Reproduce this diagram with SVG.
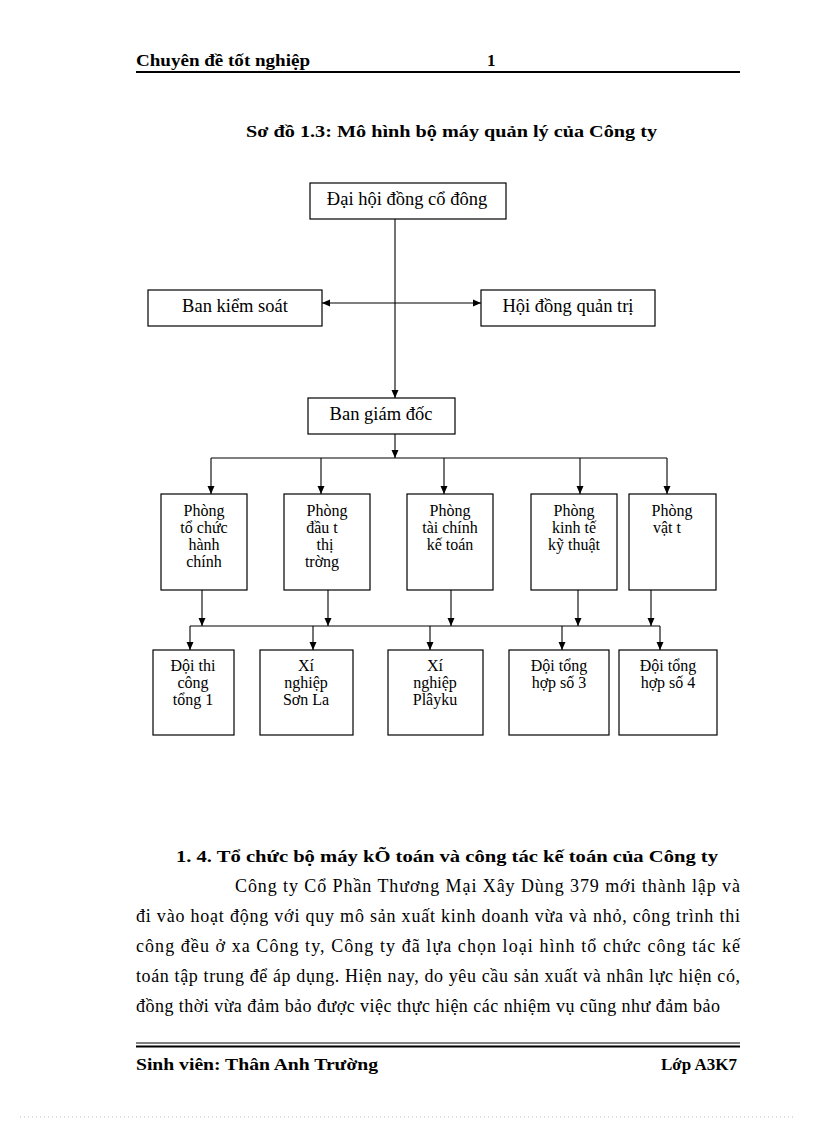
<svg xmlns="http://www.w3.org/2000/svg" width="816" height="1123" viewBox="0 0 816 1123">
<defs>
<marker id="ah" markerUnits="userSpaceOnUse" markerWidth="8" markerHeight="8" viewBox="0 0 8 8" refX="8" refY="4" orient="auto-start-reverse">
<path d="M0,0.5 L8,4 L0,7.5 Z" fill="#000"/>
</marker>
<style>
.t{font-family:"Liberation Serif","Times New Roman",serif;fill:#000}
.b{font-weight:bold}
.n{font-size:18.5px;text-anchor:middle}
.s{font-size:16px;text-anchor:middle}
.p{font-size:17px}
.q{font-size:18px}
.box{fill:#fff;stroke:#000;stroke-width:1.2}
.c{fill:none;stroke:#000;stroke-width:1.1}
.a{marker-end:url(#ah)}
</style>
</defs>
<rect width="816" height="1123" fill="#fff"/>

<!-- header -->
<text class="t b p" x="136" y="66" textLength="174" lengthAdjust="spacingAndGlyphs">Chuyên đề tốt nghiệp</text>
<text class="t b p" x="487" y="66">1</text>
<line x1="136" y1="72" x2="740" y2="72" stroke="#000" stroke-width="2"/>

<text class="t b p" x="246" y="137" textLength="411" lengthAdjust="spacingAndGlyphs">Sơ đồ 1.3: Mô hình bộ máy quản lý của Công ty</text>

<!-- connectors -->
<g id="connectors">
<line class="c a" x1="395" y1="219" x2="395" y2="398"/>
<line class="c a" x1="395" y1="303" x2="322" y2="303"/>
<line class="c a" x1="395" y1="303" x2="481" y2="303"/>
<line class="c a" x1="395" y1="434" x2="395" y2="458"/>
<line class="c" x1="211" y1="458" x2="667" y2="458"/>
<line class="c a" x1="211" y1="458" x2="211" y2="494"/>
<line class="c a" x1="321" y1="458" x2="321" y2="494"/>
<line class="c a" x1="444" y1="458" x2="444" y2="494"/>
<line class="c a" x1="580" y1="458" x2="580" y2="494"/>
<line class="c a" x1="667" y1="458" x2="667" y2="494"/>
<line class="c a" x1="202" y1="590" x2="202" y2="626"/>
<line class="c a" x1="328" y1="590" x2="328" y2="626"/>
<line class="c a" x1="451" y1="590" x2="451" y2="626"/>
<line class="c a" x1="578" y1="590" x2="578" y2="626"/>
<line class="c a" x1="651" y1="590" x2="651" y2="626"/>
<line class="c" x1="190" y1="626" x2="660" y2="626"/>
<line class="c a" x1="190" y1="626" x2="190" y2="650"/>
<line class="c a" x1="313" y1="626" x2="313" y2="650"/>
<line class="c a" x1="430" y1="626" x2="430" y2="650"/>
<line class="c a" x1="562" y1="626" x2="562" y2="650"/>
<line class="c a" x1="660" y1="626" x2="660" y2="650"/>
</g>

<!-- nodes -->
<g id="dhdcd"><rect class="box" x="310" y="183" width="196" height="36"/><text class="t n" x="407" y="205">Đại hội đồng cổ đông</text></g>
<g id="bks"><rect class="box" x="148" y="290" width="174" height="36"/><text class="t n" x="235" y="312">Ban kiểm soát</text></g>
<g id="hdqt"><rect class="box" x="481" y="290" width="174" height="36"/><text class="t n" x="568" y="312">Hội đồng quản trị</text></g>
<g id="bgd"><rect class="box" x="308" y="398" width="147" height="36"/><text class="t n" x="381" y="420">Ban giám đốc</text></g>

<g id="p1"><rect class="box" x="161" y="494" width="86" height="96"/>
<text class="t s"><tspan x="204" y="516">Phòng</tspan><tspan x="204" y="533">tổ chức</tspan><tspan x="204" y="550">hành</tspan><tspan x="204" y="567">chính</tspan></text></g>
<g id="p2"><rect class="box" x="284" y="494" width="86" height="96"/>
<text class="t s"><tspan x="327" y="516">Phòng</tspan><tspan x="322" y="533">đầu t</tspan><tspan x="325" y="550">thị</tspan><tspan x="322" y="567">trờng</tspan></text></g>
<g id="p3"><rect class="box" x="407" y="494" width="86" height="96"/>
<text class="t s"><tspan x="450" y="516">Phòng</tspan><tspan x="450" y="533">tài chính</tspan><tspan x="450" y="550">kế toán</tspan></text></g>
<g id="p4"><rect class="box" x="531" y="494" width="86" height="96"/>
<text class="t s"><tspan x="574" y="516">Phòng</tspan><tspan x="574" y="533">kinh tế</tspan><tspan x="574" y="550">kỹ thuật</tspan></text></g>
<g id="p5"><rect class="box" x="629" y="494" width="87" height="96"/>
<text class="t s"><tspan x="672" y="516">Phòng</tspan><tspan x="667" y="533">vật t</tspan></text></g>

<g id="d1"><rect class="box" x="153" y="650" width="81" height="85"/>
<text class="t s"><tspan x="193" y="671">Đội thi</tspan><tspan x="193" y="688">công</tspan><tspan x="193" y="705">tổng 1</tspan></text></g>
<g id="d2"><rect class="box" x="260" y="650" width="93" height="85"/>
<text class="t s"><tspan x="306" y="671">Xí</tspan><tspan x="306" y="688">nghiệp</tspan><tspan x="306" y="705">Sơn La</tspan></text></g>
<g id="d3"><rect class="box" x="388" y="650" width="95" height="85"/>
<text class="t s"><tspan x="435" y="671">Xí</tspan><tspan x="435" y="688">nghiệp</tspan><tspan x="435" y="705">Plâyku</tspan></text></g>
<g id="d4"><rect class="box" x="509" y="650" width="100" height="85"/>
<text class="t s"><tspan x="559" y="671">Đội tổng</tspan><tspan x="559" y="688">hợp số 3</tspan></text></g>
<g id="d5"><rect class="box" x="619" y="650" width="98" height="85"/>
<text class="t s"><tspan x="668" y="671">Đội tổng</tspan><tspan x="668" y="688">hợp số 4</tspan></text></g>

<!-- body text -->
<text class="t b p" x="176" y="862" textLength="542" lengthAdjust="spacingAndGlyphs">1. 4. Tổ chức bộ máy kÕ toán và công tác kế toán của Công ty</text>
<text class="t q" x="235" y="892" textLength="505" lengthAdjust="spacing">Công ty Cổ Phần Thương Mại Xây Dùng 379 mới thành lập và</text>
<text class="t q" x="136" y="922" textLength="604" lengthAdjust="spacing">đi vào hoạt động với quy mô sản xuất kinh doanh vừa và nhỏ, công trình thi</text>
<text class="t q" x="136" y="952" textLength="604" lengthAdjust="spacing">công đều ở xa Công ty, Công ty đã lựa chọn loại hình tổ chức công tác kế</text>
<text class="t q" x="136" y="982" textLength="604" lengthAdjust="spacing">toán tập trung để áp dụng. Hiện nay, do yêu cầu sản xuất và nhân lực hiện có,</text>
<text class="t q" x="136" y="1012" textLength="584" lengthAdjust="spacing">đồng thời vừa đảm bảo được việc thực hiện các nhiệm vụ cũng như đảm bảo</text>

<!-- footer -->
<line x1="136" y1="1043" x2="740" y2="1043" stroke="#000" stroke-width="1"/>
<line x1="136" y1="1046.5" x2="740" y2="1046.5" stroke="#000" stroke-width="2"/>
<text class="t b p" x="136" y="1070" textLength="242" lengthAdjust="spacingAndGlyphs">Sinh viên: Thân Anh Trường</text>
<text class="t b p" x="737" y="1070" text-anchor="end">Lớp A3K7</text>
<line x1="20" y1="1117" x2="796" y2="1117" stroke="#bbb" stroke-width="1" stroke-dasharray="1,3"/>
</svg>
